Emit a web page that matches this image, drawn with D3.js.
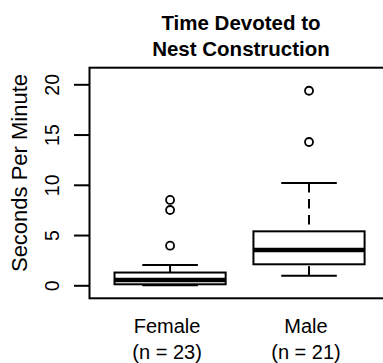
<!DOCTYPE html>
<html>
<head>
<meta charset="utf-8">
<script src="https://cdn.jsdelivr.net/npm/d3@7"></script>
<style>
  body { margin: 0; background: #fff; }
  text { font-family: "Liberation Sans", Arial, Helvetica, sans-serif; fill: #000; }
</style>
</head>
<body>
<div id="chart"></div>
<script>
// groups and box summaries
const groups = ["Female", "Male"];
const counts = [23, 21];
const lowerWhisker = [0.0, 0.96];
const q1 = [0.10, 2.09];
const median = [0.53, 3.51];
const q3 = [1.27, 5.37];
const upperWhisker = [2.03, 10.18];
const outliers = [[8.49, 7.49, 3.94], [19.36, 14.26]];
const yTicks = [0, 5, 10, 15, 20];

const width = 383;
const height = 363;
const plotLeft = 89.5;
const plotRight = 389.6;
const plotTop = 67.7;
const plotBottom = 298.3;

const svg = d3.select("#chart")
  .append("svg")
    .attr("width", width)
    .attr("height", height);

// boxes sit at 1 and 2, like R's boxplot
const x = d3.scaleLinear()
  .domain([0.42, 2.58])
  .range([plotLeft, plotRight]);

const y = d3.scaleLinear()
  .domain([-1.294, 21.652])
  .range([plotBottom, plotTop]);

const boxW = 0.8;
const capW = 0.4;

const stats = groups.map((g, i) => ({
  name: g, n: counts[i], pos: i + 1,
  lw: lowerWhisker[i], q1: q1[i], med: median[i], q3: q3[i], uw: upperWhisker[i],
  out: outliers[i]
}));

// y axis: ticks outward, labels rotated
const yAxis = svg.append("g")
  .attr("transform", "translate(" + plotLeft + ",0)")
  .call(d3.axisLeft(y).tickValues(yTicks).tickSize(15.5).tickPadding(0).tickFormat(d3.format("d")));
yAxis.select(".domain").remove();
yAxis.selectAll(".tick line").attr("stroke", "#000").attr("stroke-width", 2);
yAxis.selectAll(".tick text")
  .attr("x", null).attr("dy", null)
  .attr("text-anchor", "middle")
  .attr("transform", "translate(-30.3,0) rotate(-90)")
  .style("font-size", "19.5px");

const box = svg.append("g")
  .selectAll("g")
  .data(stats)
  .enter().append("g");

// whiskers drawn from the ends towards the box
box.append("line")
  .attr("x1", d => x(d.pos)).attr("x2", d => x(d.pos))
  .attr("y1", d => y(d.uw)).attr("y2", d => y(d.q3))
  .attr("stroke", "#000").attr("stroke-width", 2)
  .attr("stroke-dasharray", "9.5,6.5");
box.append("line")
  .attr("x1", d => x(d.pos)).attr("x2", d => x(d.pos))
  .attr("y1", d => y(d.lw)).attr("y2", d => y(d.q1))
  .attr("stroke", "#000").attr("stroke-width", 2)
  .attr("stroke-dasharray", "9.5,6.5");

// caps
["lw", "uw"].forEach(k => {
  box.append("line")
    .attr("x1", d => x(d.pos - capW / 2)).attr("x2", d => x(d.pos + capW / 2))
    .attr("y1", d => y(d[k])).attr("y2", d => y(d[k]))
    .attr("stroke", "#000").attr("stroke-width", 2);
});

box.append("rect")
  .attr("x", d => x(d.pos - boxW / 2))
  .attr("width", d => x(d.pos + boxW / 2) - x(d.pos - boxW / 2))
  .attr("y", d => y(d.q3))
  .attr("height", d => y(d.q1) - y(d.q3))
  .attr("fill", "#fff")
  .attr("stroke", "#000").attr("stroke-width", 2);

box.append("line")
  .attr("x1", d => x(d.pos - boxW / 2)).attr("x2", d => x(d.pos + boxW / 2))
  .attr("y1", d => y(d.med)).attr("y2", d => y(d.med))
  .attr("stroke", "#000").attr("stroke-width", 4.5);

box.selectAll("circle")
  .data(d => d.out.map(v => ({pos: d.pos, v: v})))
  .enter().append("circle")
    .attr("cx", d => x(d.pos))
    .attr("cy", d => y(d.v))
    .attr("r", 4)
    .attr("fill", "none")
    .attr("stroke", "#000").attr("stroke-width", 1.8);

// frame
svg.append("rect")
  .attr("x", plotLeft).attr("y", plotTop)
  .attr("width", plotRight - plotLeft).attr("height", plotBottom - plotTop)
  .attr("fill", "none")
  .attr("stroke", "#000").attr("stroke-width", 2);

// category labels
const xl = svg.append("g")
  .selectAll("text")
  .data(stats)
  .enter();
xl.append("text")
  .attr("x", d => x(d.pos) - 3)
  .attr("y", 332.5)
  .attr("text-anchor", "middle")
  .style("font-size", "20px")
  .text(d => d.name);
xl.append("text")
  .attr("x", d => x(d.pos) - 3)
  .attr("y", 358.5)
  .attr("text-anchor", "middle")
  .style("font-size", "20px")
  .text(d => "(n = " + d.n + ")");

// y label
svg.append("text")
  .attr("text-anchor", "middle")
  .attr("transform", "translate(26.5," + 173 + ") rotate(-90)")
  .style("font-size", "22px")
  .text("Seconds Per Minute");

// title
const title = ["Time Devoted to", "Nest Construction"];
svg.append("g")
  .selectAll("text")
  .data(title)
  .enter().append("text")
    .attr("x", 241)
    .attr("y", (d, i) => 30 + i * 26)
    .attr("text-anchor", "middle")
    .style("font-size", "20.5px")
    .style("font-weight", "bold")
    .text(d => d);
</script>
</body>
</html>
